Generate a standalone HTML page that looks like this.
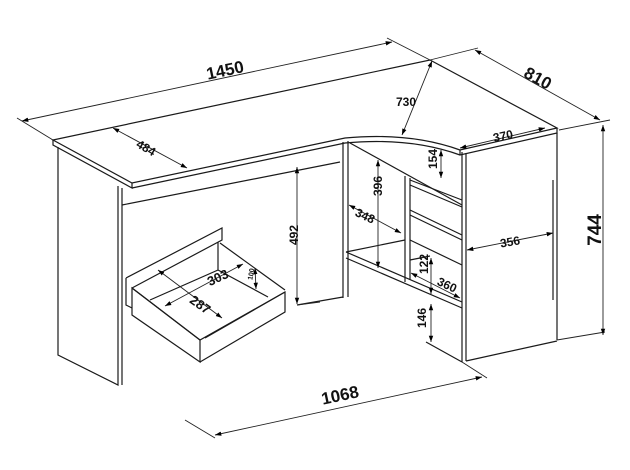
<!DOCTYPE html>
<html><head><meta charset="utf-8"><style>
html,body{margin:0;padding:0;background:#fff;}
svg{display:block;font-family:"Liberation Sans",sans-serif;font-weight:bold;}
</style></head><body>
<svg width="630" height="470" viewBox="0 0 630 470" xmlns="http://www.w3.org/2000/svg">
<defs>
<marker id="a" viewBox="0 0 10 10" refX="10" refY="5" markerWidth="7" markerHeight="7" orient="auto-start-reverse"><path d="M0,1.5 L10,5 L0,8.5z" fill="#000"/></marker>
</defs>
<g fill="none" stroke="#1a1a1a" stroke-width="1.2">
<path d="M53,140 L430,60 L557,128 L460,150 Q410,132 345,138 L132,183 Z" fill="#fff"/>
<path d="M53,140 L53,145 L132,188 L132,183"/>
<path d="M132,188 L345,143 Q410,137 460,155 L557,133 L557,128"/>
<path d="M460,150 L460,155"/>
<path d="M58,147 L58,355 L118,385 L118,186"/>
<path d="M122,188 L122,385"/>
<path d="M122,205 L340,162"/>
<path d="M297,305 L343,297"/>
<path d="M343,142 L343,298 M348,141 L348,297"/>
<path d="M350,143 L462,205"/>
<path d="M405,176 L405,282 M410,178 L410,280"/>
<path d="M410,180 L462,200 M410,185 L462,207 M410,210 L462,235 M410,215 L462,240 M410,240 L462,265"/>
<path d="M346,252 L405,240 M346,252 L462,302 M346,258 L462,308 M410,260 L430,256"/>
<path d="M426,342 L462,362"/>
<path d="M462,152 L462,362 M466,153 L466,361 M557,133 L557,340 M466,361 L557,341"/>
<path d="M553,180 L553,300"/>
<path d="M126,278 L222,228 L222,240 L132,288 M126,278 L126,305 L132,308"/>
<path d="M132,288 L132,315 L200,362 L200,340 Z" fill="#fff"/>
<path d="M132,288 L200,340 L285,292 L285,312 L200,362"/>
<path d="M205,338 L285,292"/>
<path d="M218,242 L218,270 L150,300 M218,270 L268,297 M220,243 L285,290"/>
</g>
<g stroke="#222" stroke-width="0.9" fill="none">
<path d="M17,118 L53,140 M387,38 L430,60 M430,60 L478,48 M559,130 L610,120 M557,340 L605,332 M462,362 L487,378 M185,420 L215,438 M297,305 L320,302"/>
<path d="M22,121 L392,42" marker-start="url(#a)" marker-end="url(#a)"/>
<path d="M475,50 L600,120" marker-start="url(#a)" marker-end="url(#a)"/>
<path d="M432,61 L402,135" marker-start="url(#a)" marker-end="url(#a)"/>
<path d="M460,148 L545,128" marker-start="url(#a)" marker-end="url(#a)"/>
<path d="M603,125 L603,335" marker-start="url(#a)" marker-end="url(#a)"/>
<path d="M113,128 L187,168" marker-start="url(#a)" marker-end="url(#a)"/>
<path d="M297,167 L297,304" marker-start="url(#a)" marker-end="url(#a)"/>
<path d="M378,160 L378,268" marker-start="url(#a)" marker-end="url(#a)"/>
<path d="M349,205 L401,233" marker-start="url(#a)" marker-end="url(#a)"/>
<path d="M441,150 L441,178" marker-start="url(#a)" marker-end="url(#a)"/>
<path d="M467,250 L553,233" marker-start="url(#a)" marker-end="url(#a)"/>
<path d="M431,258 L431,294" marker-start="url(#a)" marker-end="url(#a)"/>
<path d="M411,273 L460,298" marker-start="url(#a)" marker-end="url(#a)"/>
<path d="M431,304 L431,342" marker-start="url(#a)" marker-end="url(#a)"/>
<path d="M215,435 L482,377" marker-start="url(#a)" marker-end="url(#a)"/>
<path d="M165,306 L243,264" marker-start="url(#a)" marker-end="url(#a)"/>
<path d="M158,270 L222,318" marker-start="url(#a)" marker-end="url(#a)"/>
<path d="M255,268 L256,289" marker-start="url(#a)" marker-end="url(#a)"/>
</g>
<g fill="#111">
<text x="225" y="76" font-size="17" text-anchor="middle" transform="rotate(-12 225 70)">1450</text>
<text x="538" y="84" font-size="17" text-anchor="middle" transform="rotate(29 538 78)">810</text>
<text x="406" y="106" font-size="12" text-anchor="middle">730</text>
<text x="503" y="140" font-size="12" text-anchor="middle" transform="rotate(-12 503 136)">370</text>
<text x="595" y="236" font-size="19" text-anchor="middle" transform="rotate(-90 595 230)">744</text>
<text x="146" y="152" font-size="12" text-anchor="middle" transform="rotate(30 146 148)">484</text>
<text x="294" y="239" font-size="12" text-anchor="middle" transform="rotate(-90 294 235)">492</text>
<text x="382" y="194" font-size="12" text-anchor="middle" transform="rotate(-90 378 190)">396</text>
<text x="365" y="220" font-size="12" text-anchor="middle" transform="rotate(25 365 216)">348</text>
<text x="437" y="167" font-size="12" text-anchor="middle" transform="rotate(-90 433 163)">154</text>
<text x="510" y="246" font-size="12" text-anchor="middle" transform="rotate(-10 510 242)">356</text>
<text x="428" y="272" font-size="12" text-anchor="middle" transform="rotate(-90 424 268)">122</text>
<text x="447" y="289" font-size="12" text-anchor="middle" transform="rotate(25 447 285)">360</text>
<text x="426" y="326" font-size="12" text-anchor="middle" transform="rotate(-90 422 322)">146</text>
<text x="340" y="401" font-size="17" text-anchor="middle" transform="rotate(-12 340 395)">1068</text>
<text x="218" y="282" font-size="13" text-anchor="middle" transform="rotate(-25 218 278)">303</text>
<text x="200" y="309" font-size="13" text-anchor="middle" transform="rotate(35 200 305)">287</text>
<text x="252" y="279" font-size="7" text-anchor="middle" transform="rotate(-80 250 276)">100</text>
</g>
</svg>
</body></html>
